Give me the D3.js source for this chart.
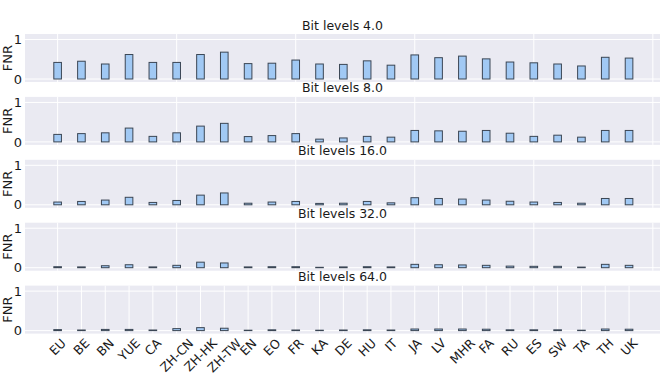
<!DOCTYPE html>
<html>
<head>
<meta charset="utf-8">
<script src="https://cdn.jsdelivr.net/npm/d3@7"></script>
<style>
  body { margin: 0; background: #fff; }
  text { font-family: "DejaVu Sans", sans-serif; fill: #1a1a1a; }
</style>
</head>
<body>
<div class="canvas"></div>
<script>
var categories = ["EU", "BE", "BN", "YUE", "CA", "ZH-CN", "ZH-HK", "ZH-TW", "EN", "EO", "FR", "KA", "DE",
                  "HU", "IT", "JA", "LV", "MHR", "FA", "RU", "ES", "SW", "TA", "TH", "UK"];
var bitLevels = ["4.0", "8.0", "16.0", "32.0", "64.0"];

// FNR per language, one array per bit level
var fnr4  = [0.42, 0.45, 0.38, 0.62, 0.42, 0.42, 0.62, 0.68, 0.39, 0.40, 0.48, 0.38, 0.37,
             0.46, 0.35, 0.61, 0.54, 0.58, 0.51, 0.43, 0.41, 0.38, 0.33, 0.55, 0.53];
var fnr8  = [0.19, 0.21, 0.23, 0.35, 0.14, 0.23, 0.40, 0.47, 0.135, 0.16, 0.21, 0.07, 0.10,
             0.14, 0.12, 0.29, 0.28, 0.27, 0.29, 0.22, 0.14, 0.17, 0.12, 0.29, 0.29];
var fnr16 = [0.07, 0.085, 0.12, 0.19, 0.06, 0.11, 0.245, 0.30, 0.04, 0.07, 0.085, 0.035, 0.04,
             0.085, 0.05, 0.18, 0.16, 0.145, 0.12, 0.09, 0.07, 0.06, 0.04, 0.16, 0.16];
var fnr32 = [0.025, 0.02, 0.05, 0.075, 0.02, 0.06, 0.14, 0.12, 0.02, 0.025, 0.025, 0.01, 0.02,
             0.025, 0.02, 0.085, 0.075, 0.07, 0.06, 0.04, 0.035, 0.035, 0.015, 0.085, 0.06];
var fnr64 = [0.025, 0.015, 0.03, 0.03, 0.015, 0.05, 0.075, 0.06, 0.01, 0.02, 0.015, 0.01, 0.015,
             0.02, 0.015, 0.04, 0.04, 0.04, 0.035, 0.02, 0.02, 0.02, 0.01, 0.04, 0.035];
var series = [fnr4, fnr8, fnr16, fnr32, fnr64];
var yTicks = [0, 1];

var W = 664, H = 388;
var left = 25, right = 660, panelH = 48, top0 = 34, step = 62.9;

var svg = d3.select(".canvas")
            .append("svg")
            .attr("width", W)
            .attr("height", H);

var x = d3.scaleLinear().domain([-1.37, 25.3]).range([left, right]);
var y = d3.scaleLinear().domain([-0.076, 1.14]).range([panelH, 0]);
var barW = x(0.32) - x(0);

series.forEach(function(vals, p){
	var last = p === series.length - 1;
	var g = svg.append("g").attr("transform", "translate(0," + (top0 + p * step) + ")");

	g.append("rect")
		.attr("x", left).attr("y", 0)
		.attr("width", right - left).attr("height", panelH)
		.attr("fill", "#eaeaf2");

	// vertical grid: every category on the bottom panel, every 5 otherwise
	var xt = last ? d3.range(categories.length) : d3.range(0, 26, 5);
	g.selectAll(".vg").data(xt).enter().append("line")
		.attr("x1", function(d){ return x(d); }).attr("x2", function(d){ return x(d); })
		.attr("y1", 0).attr("y2", panelH)
		.attr("stroke", "#fff").attr("stroke-width", 1);

	g.selectAll(".hg").data(yTicks).enter().append("line")
		.attr("x1", left).attr("x2", right)
		.attr("y1", function(d){ return y(d); }).attr("y2", function(d){ return y(d); })
		.attr("stroke", "#fff").attr("stroke-width", 1);

	g.selectAll(".bar").data(vals).enter().append("rect")
		.attr("x", function(d, i){ return x(i) - barW / 2; })
		.attr("y", function(d){ return y(d); })
		.attr("width", barW)
		.attr("height", function(d){ return y(0) - y(d); })
		.attr("fill", "#a1c9f4")
		.attr("stroke", "#3b4654")
		.attr("stroke-width", 1);

	g.selectAll(".yt").data(yTicks).enter().append("text")
		.attr("x", 22).attr("y", function(d){ return y(d); })
		.attr("dy", "0.36em")
		.attr("text-anchor", "end")
		.style("font-size", "13px")
		.text(function(d){ return d; });

	g.append("text")
		.attr("transform", "translate(11.5," + (panelH / 2) + ") rotate(-90)")
		.attr("text-anchor", "middle")
		.style("font-size", "13px")
		.text("FNR");

	g.append("text")
		.attr("x", (left + right) / 2).attr("y", -4.5)
		.attr("text-anchor", "middle")
		.style("font-size", "12.5px")
		.text("Bit levels " + bitLevels[p]);

	if (last) {
		var y0 = panelH + 3;
		categories.forEach(function(c, i){
			var t = g.append("text")
				.attr("text-anchor", "middle")
				.attr("dominant-baseline", "central")
				.style("font-size", "12.5px")
				.text(c);
			var L = t.node().getComputedTextLength();
			var half = (L + 12) * Math.SQRT1_2 / 2;
			t.attr("transform", "translate(" + x(i) + "," + (y0 + half) + ") rotate(-45)");
		});
	}
});
</script>
</body>
</html>
